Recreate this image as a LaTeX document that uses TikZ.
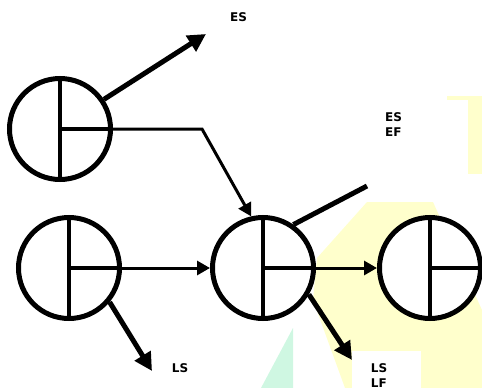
\documentclass[tikz,border=0pt]{standalone}
\usepackage{fontspec}
\setmainfont{DejaVu Sans}
\usetikzlibrary{arrows.meta}
\definecolor{wmyellow}{HTML}{FFFFCC}
\definecolor{wmgreen}{HTML}{CFF7E2}
\begin{document}
\begin{tikzpicture}[x=1pt,y=-1pt,
  aon/.style={circle, draw, line width=5pt, fill=white, minimum size=101pt, inner sep=0pt},
  divider/.style={line width=3.5pt},
  thinarrow/.style={line width=3pt, -{Triangle[length=13pt,width=14pt]}},
  thickarrow/.style={line width=5pt, -{Triangle[length=18pt,width=18pt]}},
  thickline/.style={line width=5pt},
  lbl/.style={font=\bfseries\fontsize{12}{14.7}\selectfont, inner sep=0pt, anchor=north west, align=left}]
\useasboundingbox (0,0) rectangle (482,388);
% watermark fragments
\fill[wmyellow] (367,202) -- (433,202) -- (482,310) -- (482,388) -- (345,388) -- (313,300) -- (317,258) -- cycle;
\fill[wmyellow] (468,100) rectangle (482,174);
\fill[wmyellow] (447,96) rectangle (482,100);
\fill[white] (352,351) rectangle (421,388);
\fill[wmgreen] (293,328) -- (293,388) -- (261,388) -- cycle;
% nodes
\node[aon] (A) at (60,129) {};
\node[aon] (B) at (69,268) {};
\node[aon] (C) at (263,268) {};
\node[aon] (D) at (430,268) {};
\foreach \n in {A,B,C,D}{
  \draw[divider] (\n.north) -- (\n.south);
  \draw[divider] (\n.center) -- (\n.east);
}
% labels
\node[lbl] (es) at (230,12.7) {ES};
\node[lbl] (esef) at (385,112.7) {ES\\EF};
\node[lbl] (ls) at (171.7,363.3) {LS};
\node[lbl] (lslf) at (370.7,363.3) {LS\\LF};
% free ends
\coordinate (esEnd) at (206,34);
\coordinate (bend) at (202,129);
\coordinate (lsEnd) at (152,371);
\coordinate (efEnd) at (367,186);
\coordinate (lfEnd) at (352,360);
% connectors
\draw[thickarrow] (A.34) -- (esEnd);
\draw[thinarrow] (A.east) -- (bend) -- (C.103);
\draw[thinarrow] (B.east) -- (C.west);
\draw[thickarrow] (B.-40) -- (lsEnd);
\draw[thinarrow] (C.east) -- (D.west);
\draw[thickline] (C.55) -- (efEnd);
\draw[thickarrow] (C.-30) -- (lfEnd);
\end{tikzpicture}
\end{document}
